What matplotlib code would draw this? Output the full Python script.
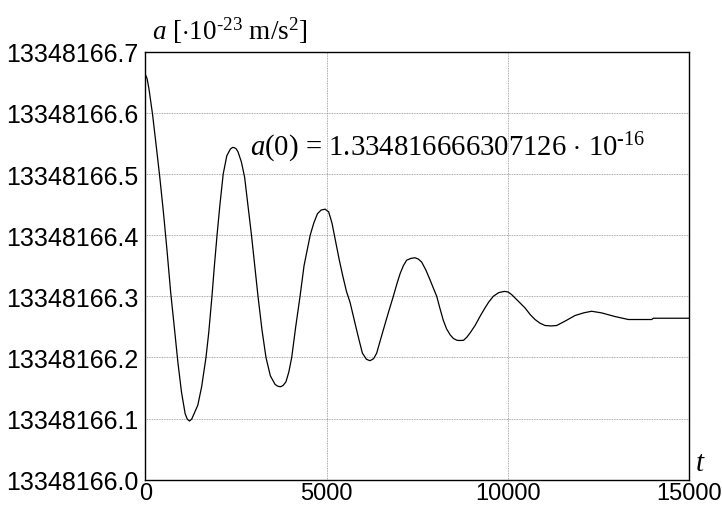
import numpy as np
import matplotlib
matplotlib.use("Agg")
import matplotlib.pyplot as plt

plt.rcParams['mathtext.fontset'] = 'custom'
plt.rcParams['mathtext.rm'] = 'Liberation Serif'
plt.rcParams['mathtext.it'] = 'Liberation Serif:italic'

# time samples and acceleration
t = [0, 50, 100, 200, 300, 400, 500, 600, 700, 800, 900, 1000, 1100, 1160, 1220,
     1280, 1340, 1450, 1555, 1620, 1675, 1750, 1840, 1900, 1980, 2060, 2150, 2250,
     2350, 2410, 2460, 2510,
     2560, 2650, 2740, 2830, 2930, 3020, 3110, 3220, 3330, 3450, 3580, 3650, 3730,
     3800, 3880, 3960, 4040, 4150, 4270, 4380, 4550, 4650, 4750, 4850, 4960,
     5060, 5150, 5250, 5350, 5450, 5550, 5650, 5750, 5830, 5900, 5990, 6100, 6200,
     6300, 6384, 6470, 6567, 6700, 6843, 6940, 7030, 7120, 7210, 7330, 7440,
     7530, 7625, 7740, 7855, 7950, 8040, 8130, 8220, 8310, 8410, 8500, 8600, 8680,
     8780, 8870, 8960, 9096, 9234, 9372, 9480, 9602, 9750, 9905,
     10010, 10108, 10290, 10476, 10620, 10752, 10890, 11028, 11200, 11350,
     11600, 11855, 12100, 12315, 12591, 12950, 13327, 13650, 13971, 14017, 15000]
a = [13348166.663, 13348166.656, 13348166.640, 13348166.598, 13348166.547,
     13348166.495, 13348166.438, 13348166.375, 13348166.307, 13348166.250,
     13348166.192, 13348166.143, 13348166.108, 13348166.099, 13348166.096,
     13348166.099, 13348166.107, 13348166.122, 13348166.152, 13348166.178,
     13348166.200, 13348166.240, 13348166.300, 13348166.345, 13348166.400,
     13348166.450, 13348166.500, 13348166.530, 13348166.541, 13348166.5435,
     13348166.543, 13348166.541,
     13348166.536, 13348166.520, 13348166.495, 13348166.450, 13348166.400,
     13348166.350, 13348166.300, 13348166.245, 13348166.200, 13348166.170,
     13348166.156, 13348166.153, 13348166.152,
     13348166.154, 13348166.160, 13348166.176, 13348166.200, 13348166.250,
     13348166.300, 13348166.350, 13348166.400, 13348166.420, 13348166.435,
     13348166.441, 13348166.4425,
     13348166.438, 13348166.420, 13348166.390, 13348166.360, 13348166.333,
     13348166.308, 13348166.290, 13348166.265, 13348166.245, 13348166.228,
     13348166.207, 13348166.197, 13348166.1946,
     13348166.198, 13348166.207, 13348166.225, 13348166.245, 13348166.272,
     13348166.300, 13348166.320, 13348166.337, 13348166.350, 13348166.359,
     13348166.362, 13348166.363,
     13348166.361, 13348166.356, 13348166.343, 13348166.327, 13348166.313,
     13348166.300, 13348166.280, 13348166.261, 13348166.247, 13348166.237,
     13348166.231, 13348166.228, 13348166.2277,
     13348166.228, 13348166.233, 13348166.240, 13348166.252, 13348166.267,
     13348166.281, 13348166.291, 13348166.300, 13348166.306, 13348166.308,
     13348166.307, 13348166.3027, 13348166.292, 13348166.281, 13348166.270,
     13348166.262, 13348166.256, 13348166.2522, 13348166.2515, 13348166.2522,
     13348166.260, 13348166.2685, 13348166.273, 13348166.2755, 13348166.2728,
     13348166.267, 13348166.262, 13348166.262, 13348166.262, 13348166.2641,
     13348166.2641]

y_ticks = [13348166.0, 13348166.1, 13348166.2, 13348166.3, 13348166.4,
           13348166.5, 13348166.6, 13348166.7]
x_ticks = [0, 5000, 10000, 15000]

fig = plt.figure(figsize=(7.22, 5.06), dpi=100)
ax = fig.add_axes([0.2012, 0.05, 0.7531, 0.8458])
ax.plot(t, a, color='black', lw=0.9)

ax.set_xlim(0, 15000)
ax.set_ylim(13348166.0, 13348166.7)
ax.set_xticks(x_ticks)
ax.set_yticks(y_ticks)
ax.set_yticklabels(['%.1f' % v for v in y_ticks])
ax.set_xticklabels([str(v) for v in x_ticks])
ax.tick_params(length=0, labelsize=18, pad=5)
ax.tick_params(axis='x', labelsize=17, pad=2)
for lab in ax.get_xticklabels() + ax.get_yticklabels():
    lab.set_fontfamily('Liberation Sans')
ax.grid(True, color='#909090', ls=(0, (1, 1)), lw=0.6)
for s in ax.spines.values():
    s.set_linewidth(1.0)

fig.text(152 / 722, 1 - 40 / 506, '$a$ [$\\cdot$10$^{\u201023}$ m/s$^2$]',
         fontsize=19.5, family='Liberation Serif', ha='left', va='baseline')
fig.text(250 / 722, 1 - 156 / 506,
         '$a$(0) = 1.334816666307126 $\\cdot$ 10$^{\u201016}$',
         fontsize=20.7, family='Liberation Serif', ha='left', va='baseline')
fig.text(700 / 722, 1 - 471 / 506, r'$t$', fontsize=21,
         family='Liberation Serif', ha='center', va='baseline')

fig.savefig('out.png', dpi=100)
